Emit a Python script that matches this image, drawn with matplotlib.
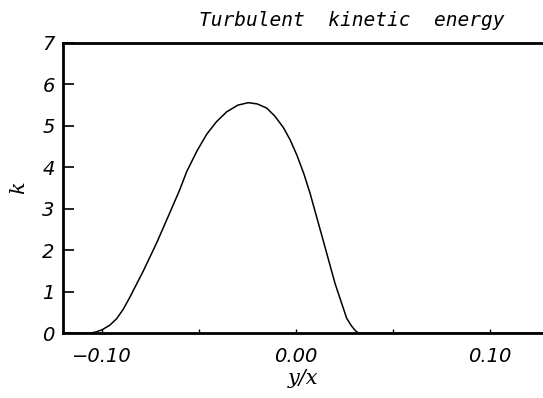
import matplotlib
matplotlib.use('Agg')
import matplotlib.pyplot as plt

# Turbulent kinetic energy profile
y_over_x = [-0.1200, -0.1062, -0.1030, -0.1000, -0.0960, -0.0924, -0.0890,
            -0.0856, -0.0787, -0.0718, -0.0649, -0.0600, -0.0563, -0.0510,
            -0.0460, -0.0410, -0.0357, -0.0300, -0.0246, -0.0200, -0.0151,
            -0.0110, -0.0065, -0.0030, 0.0004, 0.0040, 0.0072, 0.0141,
            0.0201, 0.0261, 0.0285, 0.0304, 0.0321, 0.1273]
k_values = [0.0, 0.0, 0.03, 0.08, 0.19, 0.35, 0.58,
            0.87, 1.50, 2.18, 2.92, 3.45, 3.90, 4.40,
            4.80, 5.10, 5.34, 5.50, 5.56, 5.53, 5.43,
            5.24, 4.96, 4.66, 4.30, 3.85, 3.38, 2.22,
            1.20, 0.36, 0.18, 0.07, 0.0, 0.0]

x_ticks = [-0.10, -0.05, 0.00, 0.05, 0.10]
x_tick_labels = ['\u22120.10', '', '0.00', '', '0.10']
y_ticks = [0, 1, 2, 3, 4, 5, 6, 7]

fig = plt.figure(figsize=(5.43, 3.98), dpi=100)
ax = fig.add_axes([0.116, 0.163, 0.884, 0.729])

ax.plot(y_over_x, k_values, color='black', linewidth=1.1)

ax.set_xlim(-0.1201, 0.1273)
ax.set_ylim(0, 7)

tick_font = dict(family='DejaVu Sans', style='oblique', size=14)

ax.set_xticks(x_ticks)
ax.set_xticklabels(x_tick_labels, fontdict=tick_font)
ax.set_yticks(y_ticks)
ax.set_yticklabels([str(v) for v in y_ticks], fontdict=tick_font)

ax.tick_params(axis='y', direction='in', length=8, width=1.2, pad=6)
ax.tick_params(axis='x', direction='in', length=3, width=1.0, pad=10)

for side in ['left', 'bottom', 'top']:
    ax.spines[side].set_linewidth(2.0)
ax.spines['right'].set_visible(False)

ax.set_xlabel('y/x', fontdict=dict(family='DejaVu Serif', style='italic', size=15), labelpad=2)
ax.set_ylabel('k', fontdict=dict(family='DejaVu Serif', style='italic', size=15), labelpad=10)

fig.text(0.648, 0.948, 'Turbulent  kinetic  energy', ha='center', va='center',
         family='DejaVu Sans Mono', style='oblique', size=14)

fig.savefig('out.png', dpi=100)
